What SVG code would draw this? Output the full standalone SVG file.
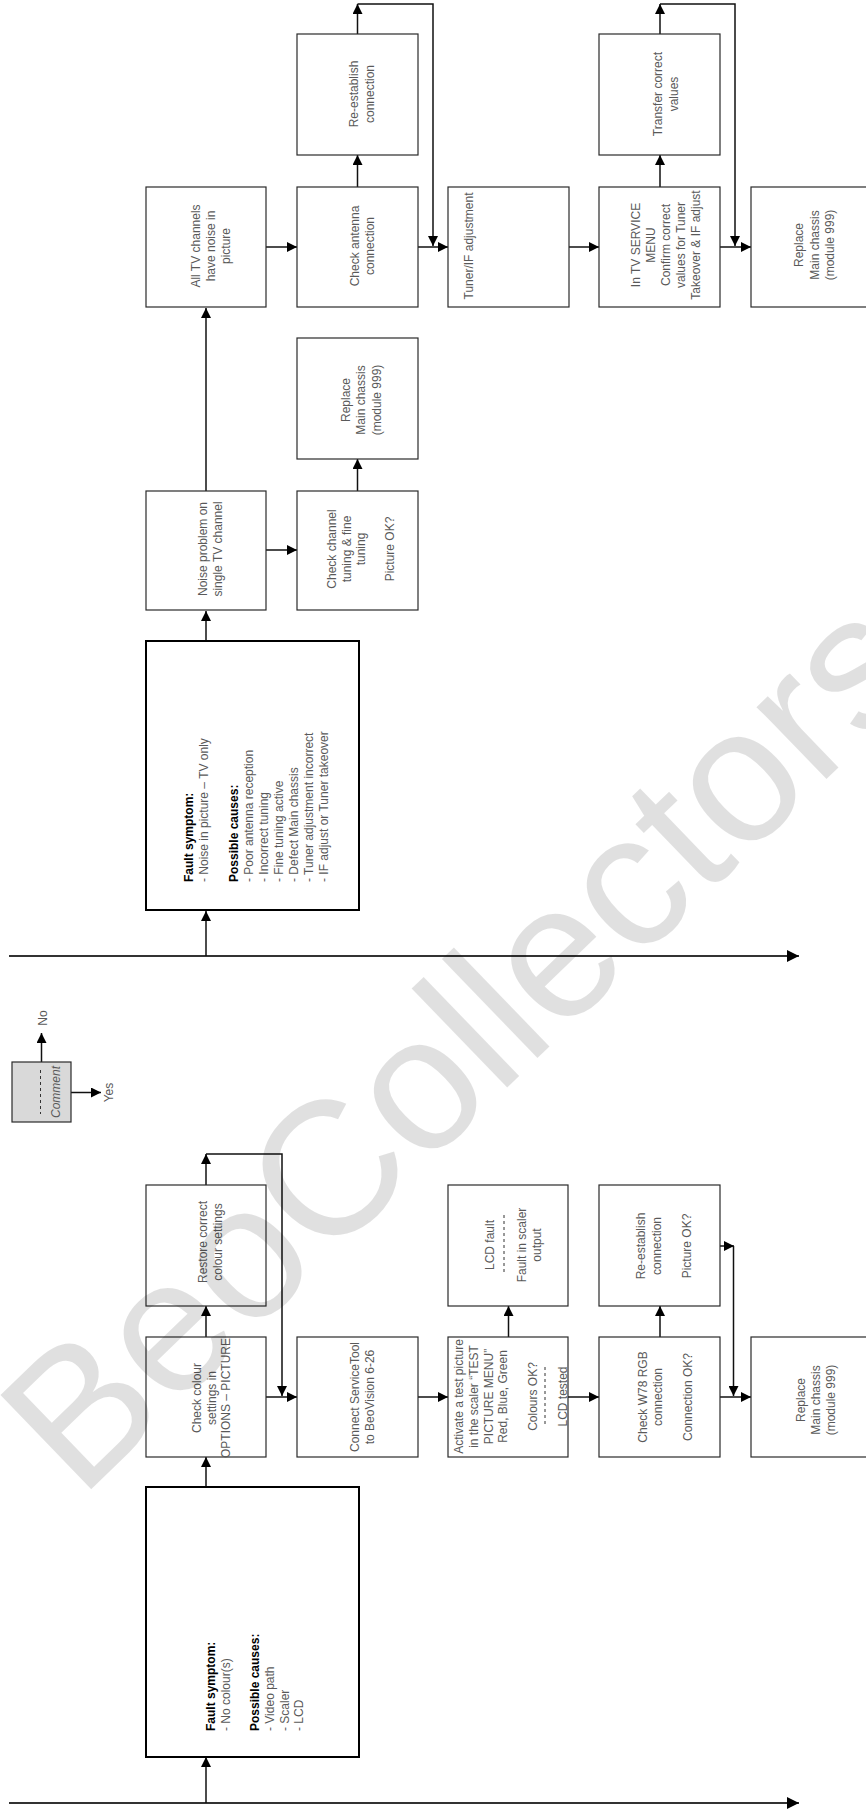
<svg xmlns="http://www.w3.org/2000/svg" width="866" height="1813" viewBox="0 0 866 1813">
<defs>
<style>
.box{fill:#fff;stroke:#2a2a2a;stroke-width:1.2}
.fault{fill:#fff;stroke:#000;stroke-width:2}
.cmt{fill:#d9d9d9;stroke:#2a2a2a;stroke-width:1.2}
.t{font-family:"Liberation Sans",Arial,sans-serif;font-size:12px;fill:#595959}
.c{text-anchor:middle}
.b{font-weight:bold;fill:#000}
.ln{fill:none;stroke:#111;stroke-width:1.5}
.main{fill:none;stroke:#333;stroke-width:2}
.dash{stroke:#333;stroke-width:1;stroke-dasharray:3 3}
.wm{font-family:"Liberation Sans",Arial,sans-serif;font-size:190px;fill:#000;fill-opacity:0.12}
</style>
<marker id="a" markerWidth="10" markerHeight="10" refX="10" refY="5" orient="auto" markerUnits="userSpaceOnUse">
<path d="M0,0 L10,5 L0,10 z" fill="#000"/>
</marker>
<marker id="A" markerWidth="12" markerHeight="12" refX="12" refY="6" orient="auto" markerUnits="userSpaceOnUse">
<path d="M0,0 L12,6 L0,12 z" fill="#000"/>
</marker>
</defs>
<rect width="866" height="1813" fill="#fff"/>

<g id="connectors">
<line class="main" x1="9" y1="956" x2="799" y2="956" marker-end="url(#A)"/>
<line class="main" x1="9" y1="1803" x2="799" y2="1803" marker-end="url(#A)"/>
<line class="ln" x1="206" y1="956" x2="206" y2="911" marker-end="url(#a)"/>
<line class="ln" x1="206" y1="641" x2="206" y2="611" marker-end="url(#a)"/>
<line class="ln" x1="206" y1="491" x2="206" y2="308" marker-end="url(#a)"/>
<line class="ln" x1="266" y1="550" x2="297" y2="550" marker-end="url(#a)"/>
<line class="ln" x1="357.5" y1="491" x2="357.5" y2="459" marker-end="url(#a)"/>
<line class="ln" x1="266" y1="247" x2="297" y2="247" marker-end="url(#a)"/>
<line class="ln" x1="357.5" y1="187" x2="357.5" y2="155" marker-end="url(#a)"/>
<line class="ln" x1="357.5" y1="34" x2="357.5" y2="4" marker-end="url(#a)"/>
<polyline class="ln" points="357.5,4 433,4 433,246" marker-end="url(#a)"/>
<line class="ln" x1="418" y1="247" x2="448" y2="247" marker-end="url(#a)"/>
<line class="ln" x1="569" y1="247" x2="599" y2="247" marker-end="url(#a)"/>
<line class="ln" x1="660" y1="187" x2="660" y2="155" marker-end="url(#a)"/>
<line class="ln" x1="660" y1="34" x2="660" y2="4" marker-end="url(#a)"/>
<polyline class="ln" points="660,4 735,4 735,246" marker-end="url(#a)"/>
<line class="ln" x1="720" y1="247" x2="751" y2="247" marker-end="url(#a)"/>

<line class="ln" x1="206" y1="1803" x2="206" y2="1757" marker-end="url(#a)"/>
<line class="ln" x1="206" y1="1487" x2="206" y2="1457" marker-end="url(#a)"/>
<line class="ln" x1="206" y1="1337" x2="206" y2="1306" marker-end="url(#a)"/>
<line class="ln" x1="206" y1="1185" x2="206" y2="1154" marker-end="url(#a)"/>
<polyline class="ln" points="206,1154 282,1154 282,1396" marker-end="url(#a)"/>
<line class="ln" x1="266" y1="1397" x2="297" y2="1397" marker-end="url(#a)"/>
<line class="ln" x1="418" y1="1397" x2="448" y2="1397" marker-end="url(#a)"/>
<line class="ln" x1="508.5" y1="1337" x2="508.5" y2="1306" marker-end="url(#a)"/>
<line class="ln" x1="568" y1="1397" x2="599" y2="1397" marker-end="url(#a)"/>
<line class="ln" x1="660" y1="1337" x2="660" y2="1306" marker-end="url(#a)"/>
<line class="ln" x1="720" y1="1246" x2="734" y2="1246" marker-end="url(#a)"/>
<line class="ln" x1="733.5" y1="1246" x2="733.5" y2="1396" marker-end="url(#a)"/>
<line class="ln" x1="720" y1="1397" x2="751" y2="1397" marker-end="url(#a)"/>

<line class="ln" x1="41.5" y1="1062" x2="41.5" y2="1033" marker-end="url(#a)"/>
<line class="ln" x1="71" y1="1092.5" x2="101" y2="1092.5" marker-end="url(#a)"/>
</g>

<g id="legend">
<rect class="cmt" x="12" y="1062" width="59" height="60"/>
<line class="dash" x1="40.5" y1="1070" x2="40.5" y2="1114"/>
<text class="t c" transform="translate(0,1092) rotate(-90)" y="60" font-style="italic">Comment</text>
<text class="t c" transform="translate(0,1018) rotate(-90)" y="46.5">No</text>
<text class="t c" transform="translate(0,1092.5) rotate(-90)" y="113">Yes</text>
</g>

<g id="n-fault1">
<rect class="fault" x="146" y="641" width="213" height="269"/>
<text class="t" transform="translate(0,882) rotate(-90)">
<tspan x="0" y="193" class="b">Fault symptom:</tspan>
<tspan x="0" y="208">- Noise in picture – TV only</tspan>
<tspan x="0" y="238" class="b">Possible causes:</tspan>
<tspan x="0" y="253">- Poor antenna reception</tspan>
<tspan x="0" y="268">- Incorrect tuning</tspan>
<tspan x="0" y="283">- Fine tuning active</tspan>
<tspan x="0" y="298">- Defect Main chassis</tspan>
<tspan x="0" y="313">- Tuner adjustment incorrect</tspan>
<tspan x="0" y="328">- IF adjust or Tuner takeover</tspan>
</text>
</g>

<g id="n-noise">
<rect class="box" x="146" y="491" width="120" height="119"/>
<text class="t c" transform="translate(206,549) rotate(-90)"><tspan x="0" y="1">Noise problem on</tspan><tspan x="0" y="16">single TV channel</tspan></text>
</g>

<g id="n-checkchannel">
<rect class="box" x="297" y="491" width="121" height="119"/>
<text class="t c" transform="translate(357.5,549) rotate(-90)"><tspan x="0" y="-21.5">Check channel</tspan><tspan x="0" y="-7">tuning &amp; fine</tspan><tspan x="0" y="7.5">tuning</tspan><tspan x="0" y="36.5">Picture OK?</tspan></text>
</g>

<g id="n-replace1">
<rect class="box" x="297" y="338" width="121" height="121"/>
<text class="t c" transform="translate(357.5,400) rotate(-90)"><tspan x="0" y="-8">Replace</tspan><tspan x="0" y="7.5">Main chassis</tspan><tspan x="0" y="23">(module 999)</tspan></text>
</g>

<g id="n-alltv">
<rect class="box" x="146" y="187" width="120" height="120"/>
<text class="t c" transform="translate(206,246) rotate(-90)"><tspan x="0" y="-6">All TV channels</tspan><tspan x="0" y="9">have noise in</tspan><tspan x="0" y="24">picture</tspan></text>
</g>

<g id="n-antenna">
<rect class="box" x="297" y="187" width="121" height="120"/>
<text class="t c" transform="translate(357.5,246) rotate(-90)"><tspan x="0" y="1.5">Check antenna</tspan><tspan x="0" y="16.5">connection</tspan></text>
</g>

<g id="n-reestablish1">
<rect class="box" x="297" y="34" width="121" height="121"/>
<text class="t c" transform="translate(357.5,94) rotate(-90)"><tspan x="0" y="0.5">Re-establish</tspan><tspan x="0" y="16">connection</tspan></text>
</g>

<g id="n-tuner">
<rect class="box" x="448" y="187" width="121" height="120"/>
<text class="t c" transform="translate(508.5,246) rotate(-90)"><tspan x="0" y="-36">Tuner/IF adjustment</tspan></text>
</g>

<g id="n-service">
<rect class="box" x="599" y="187" width="121" height="120"/>
<text class="t c" transform="translate(659.5,245) rotate(-90)"><tspan x="0" y="-20">In TV SERVICE</tspan><tspan x="0" y="-5">MENU</tspan><tspan x="0" y="10">Confirm correct</tspan><tspan x="0" y="25">values for Tuner</tspan><tspan x="0" y="40">Takeover &amp; IF adjust</tspan></text>
</g>

<g id="n-transfer">
<rect class="box" x="599" y="34" width="121" height="121"/>
<text class="t c" transform="translate(659.5,94) rotate(-90)"><tspan x="0" y="2.5">Transfer correct</tspan><tspan x="0" y="18">values</tspan></text>
</g>

<g id="n-replace2">
<rect class="box" x="751" y="187" width="121" height="120"/>
<text class="t c" transform="translate(811.5,245) rotate(-90)"><tspan x="0" y="-8.5">Replace</tspan><tspan x="0" y="7">Main chassis</tspan><tspan x="0" y="22.5">(module 999)</tspan></text>
</g>

<g id="n-fault2">
<rect class="fault" x="146" y="1487" width="213" height="270"/>
<text class="t" transform="translate(0,1731) rotate(-90)">
<tspan x="0" y="215" class="b">Fault symptom:</tspan>
<tspan x="0" y="229.7">- No colour(s)</tspan>
<tspan x="0" y="259" class="b">Possible causes:</tspan>
<tspan x="0" y="273.8">- Video path</tspan>
<tspan x="0" y="288.5">- Scaler</tspan>
<tspan x="0" y="303">- LCD</tspan>
</text>
</g>

<g id="n-checkcolour">
<rect class="box" x="146" y="1337" width="120" height="120"/>
<text class="t c" transform="translate(206,1398) rotate(-90)"><tspan x="0" y="-5">Check colour</tspan><tspan x="0" y="9.5">settings in</tspan><tspan x="0" y="24">OPTIONS – PICTURE</tspan></text>
</g>

<g id="n-restore">
<rect class="box" x="146" y="1185" width="120" height="121"/>
<text class="t c" transform="translate(206,1242) rotate(-90)"><tspan x="0" y="1">Restore correct</tspan><tspan x="0" y="16">colour settings</tspan></text>
</g>

<g id="n-connect">
<rect class="box" x="297" y="1337" width="121" height="120"/>
<text class="t c" transform="translate(357.5,1397) rotate(-90)"><tspan x="0" y="1.5">Connect ServiceTool</tspan><tspan x="0" y="16.5">to BeoVision 6-26</tspan></text>
</g>

<g id="n-lcdfault">
<rect class="box" x="448" y="1185" width="120" height="121"/>
<text class="t c" transform="translate(508,1245) rotate(-90)"><tspan x="0" y="-14">LCD fault</tspan><tspan x="0" y="18">Fault in scaler</tspan><tspan x="0" y="33">output</tspan></text>
<line class="dash" x1="504" y1="1215" x2="504" y2="1274"/>
</g>

<g id="n-activate">
<rect class="box" x="448" y="1337" width="120" height="120"/>
<text class="t c" transform="translate(508,1396.5) rotate(-90)"><tspan x="0" y="-45.5">Activate a test picture</tspan><tspan x="0" y="-30.5">in the scaler “TEST</tspan><tspan x="0" y="-15.5">PICTURE MENU”</tspan><tspan x="0" y="-1">Red, Blue, Green</tspan><tspan x="0" y="29">Colours OK?</tspan><tspan x="0" y="59">LCD tested</tspan></text>
<line class="dash" x1="545" y1="1367" x2="545" y2="1426"/>
</g>

<g id="n-reestablish2">
<rect class="box" x="599" y="1185" width="121" height="121"/>
<text class="t c" transform="translate(659.5,1246) rotate(-90)"><tspan x="0" y="-14.5">Re-establish</tspan><tspan x="0" y="1">connection</tspan><tspan x="0" y="31.5">Picture OK?</tspan></text>
</g>

<g id="n-w78">
<rect class="box" x="599" y="1337" width="121" height="120"/>
<text class="t c" transform="translate(659.5,1397) rotate(-90)"><tspan x="0" y="-12.5">Check W78 RGB</tspan><tspan x="0" y="2.5">connection</tspan><tspan x="0" y="32.5">Connection OK?</tspan></text>
</g>

<g id="n-replace3">
<rect class="box" x="751" y="1337" width="121" height="120"/>
<text class="t c" transform="translate(811.5,1400) rotate(-90)"><tspan x="0" y="-6.5">Replace</tspan><tspan x="0" y="8.5">Main chassis</tspan><tspan x="0" y="23">(module 999)</tspan></text>
</g>

<text class="wm" transform="translate(80,1500) rotate(-44)">BeoCollectors</text>
</svg>
